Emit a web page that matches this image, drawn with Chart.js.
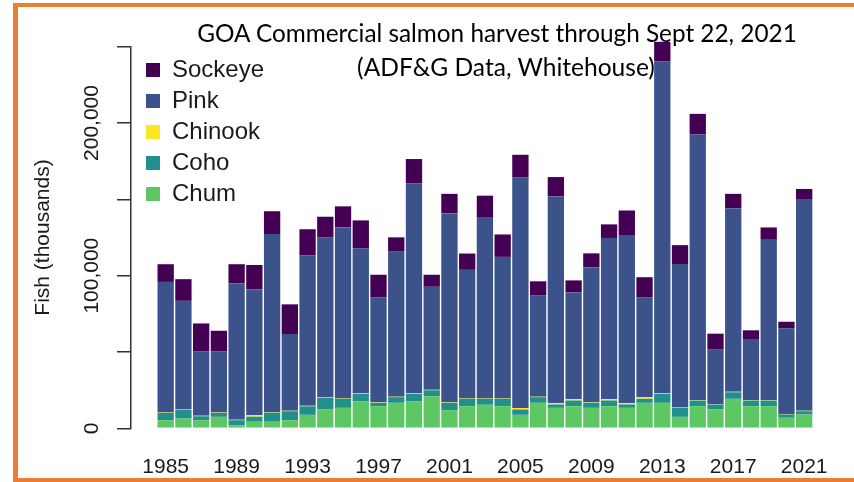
<!DOCTYPE html>
<html><head><meta charset="utf-8">
<script src="https://cdn.jsdelivr.net/npm/chart.js@4"></script>
<style>
html,body{margin:0;padding:0;background:#fff;}
#wrap{position:relative;width:854px;height:482px;overflow:hidden;background:#fff;}
canvas{position:absolute;left:0;top:0;}
.fr{position:absolute;background:#ED7D31;}
.t{position:absolute;font-family:Lato,'Open Sans',sans-serif;color:#000;white-space:nowrap;line-height:1;}
</style></head><body>
<div id="wrap">
<canvas id="c" width="854" height="482"></canvas>
<div class="fr" style="left:13px;top:3px;width:5px;height:479px"></div>
<div class="fr" style="left:13px;top:3px;width:841px;height:4px"></div>
<div class="fr" style="left:13px;top:478px;width:841px;height:4px"></div>
<div class="t" id="t1">GOA Commercial salmon harvest through Sept 22, 2021</div>
<div class="t" id="t2">(ADF&amp;G Data, Whitehouse)</div>
</div>
<script>
const years = [1985,1986,1987,1988,1989,1990,1991,1992,1993,1994,1995,1996,1997,1998,1999,2000,2001,2002,2003,2004,2005,2006,2007,2008,2009,2010,2011,2012,2013,2014,2015,2016,2017,2018,2019,2020,2021];
const tickYears = [1985,1989,1993,1997,2001,2005,2009,2013,2017,2021];
const yTickValues = [0,50000,100000,150000,200000,250000];
const yLabelValues = [0,100000,200000];
// values in thousands of fish
const chum = [5300,6400,5300,7500,1800,4300,4300,5300,8800,12300,13400,17800,14500,16700,17800,21000,11900,14500,15400,14500,8800,16700,13400,14500,13400,14500,13400,16700,16700,7500,14500,12300,19300,14500,14500,6900,9000];
const coho = [4800,5900,2600,2600,3500,3300,5900,5900,5600,7700,5900,4800,2200,3700,4800,3900,4800,4800,3900,4800,3500,3700,2200,3700,3300,3700,2200,2600,5900,5900,3700,3300,4300,3700,3700,2200,2200];
const chinook = [300,300,300,300,300,1000,300,300,300,300,300,300,300,300,300,300,300,300,300,300,1000,300,1000,1000,300,1000,1000,1000,300,300,300,300,300,300,300,300,300];
const pink = [85500,70900,42200,40000,89300,82500,116800,50200,98500,104800,112000,95000,68800,95000,137600,67500,123800,84200,118800,92700,151100,66200,135300,69800,88400,105500,110000,65300,217500,93900,174000,35600,120300,40000,105000,56100,138700];
const sockeye = [11600,14200,18300,13500,12600,15900,14900,19500,17200,13500,13800,18300,14800,9400,15900,7900,12800,10700,14000,14700,14800,9400,12700,7900,9200,8900,16100,13400,12800,12400,13500,10500,9400,5700,8100,4300,6600];

const FAM = '"Liberation Sans", Arial, Helvetica, sans-serif';
const AX_FONT = {family: FAM, size: 21};
const mk = (label, arr, color) => ({
  label, backgroundColor: color, borderWidth: 0, barPercentage: 0.92, categoryPercentage: 1.0, clip: false,
  data: years.map((yr, i) => ({x: yr, y: arr[i]}))
});

function build() {
  new Chart(document.getElementById('c'), {
    type: 'bar',
    data: {datasets: [
      mk('Chum', chum, '#5DC863'),
      mk('Coho', coho, '#21908C'),
      mk('Chinook', chinook, '#FDE725'),
      mk('Pink', pink, '#3B528B'),
      mk('Sockeye', sockeye, '#440154')
    ]},
    options: {
      responsive: false, animation: false, devicePixelRatio: 1,
      events: [],
      layout: {padding: {left: 0, top: 46.7, right: 36, bottom: 1.5}},
      scales: {
        x: {
          type: 'linear', stacked: true, offset: false, min: 1983.045, max: 2021.5,
          grid: {display: false, drawTicks: false}, border: {display: false},
          afterBuildTicks: s => { s.ticks = tickYears.map(v => ({value: v})); },
          afterFit: s => { s.height = 52.2; },
          ticks: {callback: v => String(v), padding: 26, font: AX_FONT, color: '#1a1a1a', maxRotation: 0, minRotation: 0, autoSkip: false}
        },
        y: {
          stacked: true, min: 0, max: 250000,
          afterBuildTicks: s => { s.ticks = yTickValues.map(v => ({value: v})); },
          afterFit: s => { s.width = 131; },
          grid: {drawOnChartArea: false, tickLength: 14, color: '#333', lineWidth: 1.5},
          border: {display: true, color: '#333', width: 1.5},
          ticks: {
            autoSkip: false, minRotation: 90, maxRotation: 90, crossAlign: 'center', padding: -13,
            font: AX_FONT, color: '#1a1a1a',
            callback: v => yLabelValues.includes(v) ? v.toLocaleString('en-US') : ''
          },
          title: {display: true, text: 'Fish (thousands)', font: AX_FONT, color: '#1a1a1a', padding: {top: 30.4, bottom: 0}}
        }
      },
      plugins: {
        legend: {
          position: 'chartArea', align: 'start', reverse: true,
          labels: {boxWidth: 14, boxHeight: 14, padding: 7, color: '#1a1a1a',
                   font: {family: FAM, size: 24}}
        },
        tooltip: {enabled: false}
      }
    },
    plugins: [{
      id: 'legendPlace',
      afterLayout(chart) {
        const lg = chart.legend;
        if (lg) { lg.left = 139; lg.top = 51; }
      }
    }]
  });
}

function place(id, targetW, cx, cy) {
  const el = document.getElementById(id);
  el.style.fontSize = '30px';
  let w = el.getBoundingClientRect().width;
  const s = 30 * targetW / w;
  el.style.fontSize = s + 'px';
  const r = el.getBoundingClientRect();
  el.style.left = (cx - r.width / 2) + 'px';
  el.style.top = (cy - r.height / 2) + 'px';
}

Promise.all([
  document.fonts.load('21px "Liberation Sans"'),
  document.fonts.load('24px "Liberation Sans"'),
  document.fonts.load('30px Lato')
]).catch(() => {}).then(() => {
  build();
  place('t1', 600, 497, 33);
  place('t2', 298, 506, 67);
});
</script>
</body></html>
